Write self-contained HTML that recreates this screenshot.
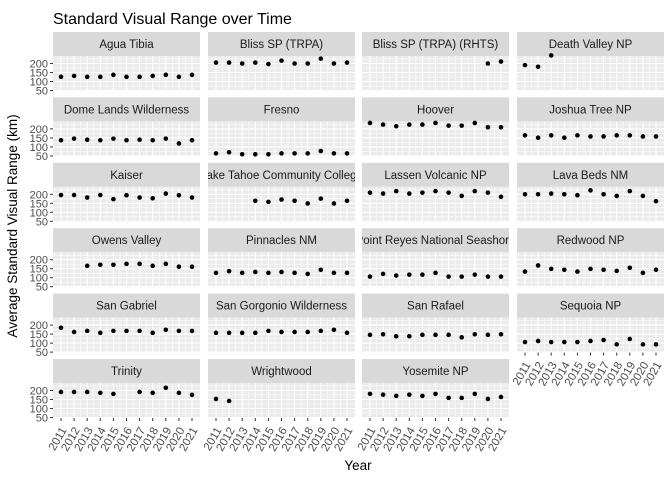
<!DOCTYPE html>
<html><head><meta charset="utf-8">
<style>
body{margin:0;background:#fff;}
svg{display:block;font-family:"Liberation Sans",Arial,sans-serif;}
</style></head>
<body>
<svg id="chart" width="672" height="480" viewBox="0 0 672 480">
<text x="53" y="24" font-size="16" fill="#000">Standard Visual Range over Time</text>
<text transform="translate(17,226) rotate(-90)" text-anchor="middle" font-size="13.5" fill="#000">Average Standard Visual Range (km)</text>
<text x="358" y="470" text-anchor="middle" font-size="13.5" fill="#000">Year</text>
<g id="panels"></g>
</svg>
<script>
const years = [2011,2012,2013,2014,2015,2016,2017,2018,2019,2020,2021];
const sites = ["Agua Tibia","Bliss SP (TRPA)","Bliss SP (TRPA) (RHTS)","Death Valley NP",
"Dome Lands Wilderness","Fresno","Hoover","Joshua Tree NP",
"Kaiser","Lake Tahoe Community College","Lassen Volcanic NP","Lava Beds NM",
"Owens Valley","Pinnacles NM","Point Reyes National Seashore","Redwood NP",
"San Gabriel","San Gorgonio Wilderness","San Rafael","Sequoia NP",
"Trinity","Wrightwood","Yosemite NP"];
const N = null;
const aguaTibia = [126,131,126,126,137,126,126,131,137,126,137];
const blissSP = [205,205,200,205,197,216,200,200,227,200,205];
const blissRHTS = [N,N,N,N,N,N,N,N,N,200,211];
const deathValley = [191,182,245,N,N,N,N,N,N,N,N];
const domeLands = [137,146,140,137,146,137,140,137,146,119,137];
const fresno = [64,70,59,59,59,64,64,64,77,64,64];
const hoover = [233,224,215,224,224,233,218,218,233,209,209];
const joshuaTree = [164,151,164,151,164,158,158,164,164,158,158];
const kaiser = [196,196,182,196,173,195,182,178,204,195,182];
const lakeTahoe = [N,N,N,164,158,171,164,149,176,149,164];
const lassen = [209,204,218,204,209,218,209,191,218,209,186];
const lavaBeds = [200,200,204,200,195,222,200,191,218,191,162];
const owensValley = [N,N,166,172,172,177,177,166,177,161,161];
const pinnacles = [127,136,127,132,127,132,127,121,144,127,127];
const pointReyes = [106,121,112,117,117,127,106,106,117,106,106];
const redwood = [134,168,149,144,134,149,144,138,155,127,144];
const sanGabriel = [185,162,168,157,168,168,168,157,174,168,168];
const sanGorgonio = [157,157,157,157,168,162,162,162,168,174,157];
const sanRafael = [146,149,138,138,146,146,146,132,149,146,149];
const sequoia = [106,112,106,106,106,112,117,93,123,93,93];
const trinity = [192,192,192,187,181,N,192,187,215,187,176];
const wrightwood = [153,142,N,N,N,N,N,N,N,N,N];
const yosemite = [181,177,170,177,170,181,159,159,181,153,164];
const series = [aguaTibia,blissSP,blissRHTS,deathValley,domeLands,fresno,hoover,joshuaTree,kaiser,lakeTahoe,lassen,lavaBeds,owensValley,pinnacles,pointReyes,redwood,sanGabriel,sanGorgonio,sanRafael,sequoia,trinity,wrightwood,yosemite];
const yTicks = [50,100,150,200];
const yMinor = [75,125,175,225];

const NS="http://www.w3.org/2000/svg";
const root=document.getElementById('panels');
const colL=[53,208,362,517], PW=147, SH=24, PH=35, rowStep=65.4, top0=32;
function el(t,a,p){const e=document.createElementNS(NS,t);for(const k in a)e.setAttribute(k,a[k]);(p||root).appendChild(e);return e;}
function slug(s){return s.toLowerCase().replace(/[^a-z0-9]+/g,'-').replace(/^-|-$/g,'');}
const xScale=(left,yr)=>left+8+(yr-years[0])*13.1;
const yScale=(pt,v)=>pt+(241.7-v)*0.18;
const defs=el('defs',{});
sites.forEach((name,i)=>{
  const c=i%4,r=Math.floor(i/4);
  const L=colL[c], sT=top0+r*rowStep, pT=sT+SH;
  const g=el('g',{});
  
  
  const cp=el('clipPath',{id:'cs'+i},defs);
  el('rect',{x:L,y:sT,width:PW,height:SH},cp);
  const sr=el('rect',{x:L,y:sT,width:PW,height:SH,fill:'#d9d9d9'},g);
  
  
  const st=el('text',{x:L+PW/2,y:sT+16,'text-anchor':'middle','font-size':'11.5',fill:'#1a1a1a','clip-path':'url(#cs'+i+')'},g);
  st.textContent=name;
  
  
  el('rect',{x:L,y:pT,width:PW,height:PH,fill:'#ebebeb'},g);
  const cpp=el('clipPath',{id:'cp'+i},defs);
  el('rect',{x:L,y:pT,width:PW,height:PH},cpp);
  const gg=el('g',{'clip-path':'url(#cp'+i+')'},g);
  yMinor.forEach(v=>el('line',{x1:L,x2:L+PW,y1:yScale(pT,v),y2:yScale(pT,v),stroke:'#fff','stroke-width':0.55},gg));
  for(let k=0;k<years.length-1;k++){const xm=(xScale(L,years[k])+xScale(L,years[k+1]))/2;el('line',{x1:xm,x2:xm,y1:pT,y2:pT+PH,stroke:'#fff','stroke-width':0.55},gg);}
  yTicks.forEach(v=>el('line',{x1:L,x2:L+PW,y1:yScale(pT,v),y2:yScale(pT,v),stroke:'#fff','stroke-width':1.1},gg));
  years.forEach(y=>el('line',{x1:xScale(L,y),x2:xScale(L,y),y1:pT,y2:pT+PH,stroke:'#fff','stroke-width':1.1},gg));
  series[i].forEach((v,k)=>{ if(v===null)return;
    const pt=el('circle',{cx:xScale(L,years[k]),cy:yScale(pT,v),r:2.3,fill:'#000'},g);
    
    
  });
  if(c===0){
    yTicks.forEach(v=>{
      const yy=yScale(pT,v);
      el('line',{x1:L-3,x2:L,y1:yy,y2:yy,stroke:'#333','stroke-width':1},g);
      const t=el('text',{x:L-5,y:yy+4,'text-anchor':'end','font-size':'11',fill:'#4d4d4d'},g);
      t.textContent=v;
      
      
    });
  }
  const showX = (r===5) || (c===3 && r===4);
  if(showX){
    const b=pT+PH;
    years.forEach(y=>{
      const xx=xScale(L,y);
      el('line',{x1:xx,x2:xx,y1:b,y2:b+3,stroke:'#333','stroke-width':1},g);
      const t=el('text',{transform:`translate(${xx+6},${b+12}) rotate(-60)`,'text-anchor':'end','font-size':'11.5',fill:'#4d4d4d'},g);
      t.textContent=y;
      
      
    });
  }
});
</script>
</body></html>
